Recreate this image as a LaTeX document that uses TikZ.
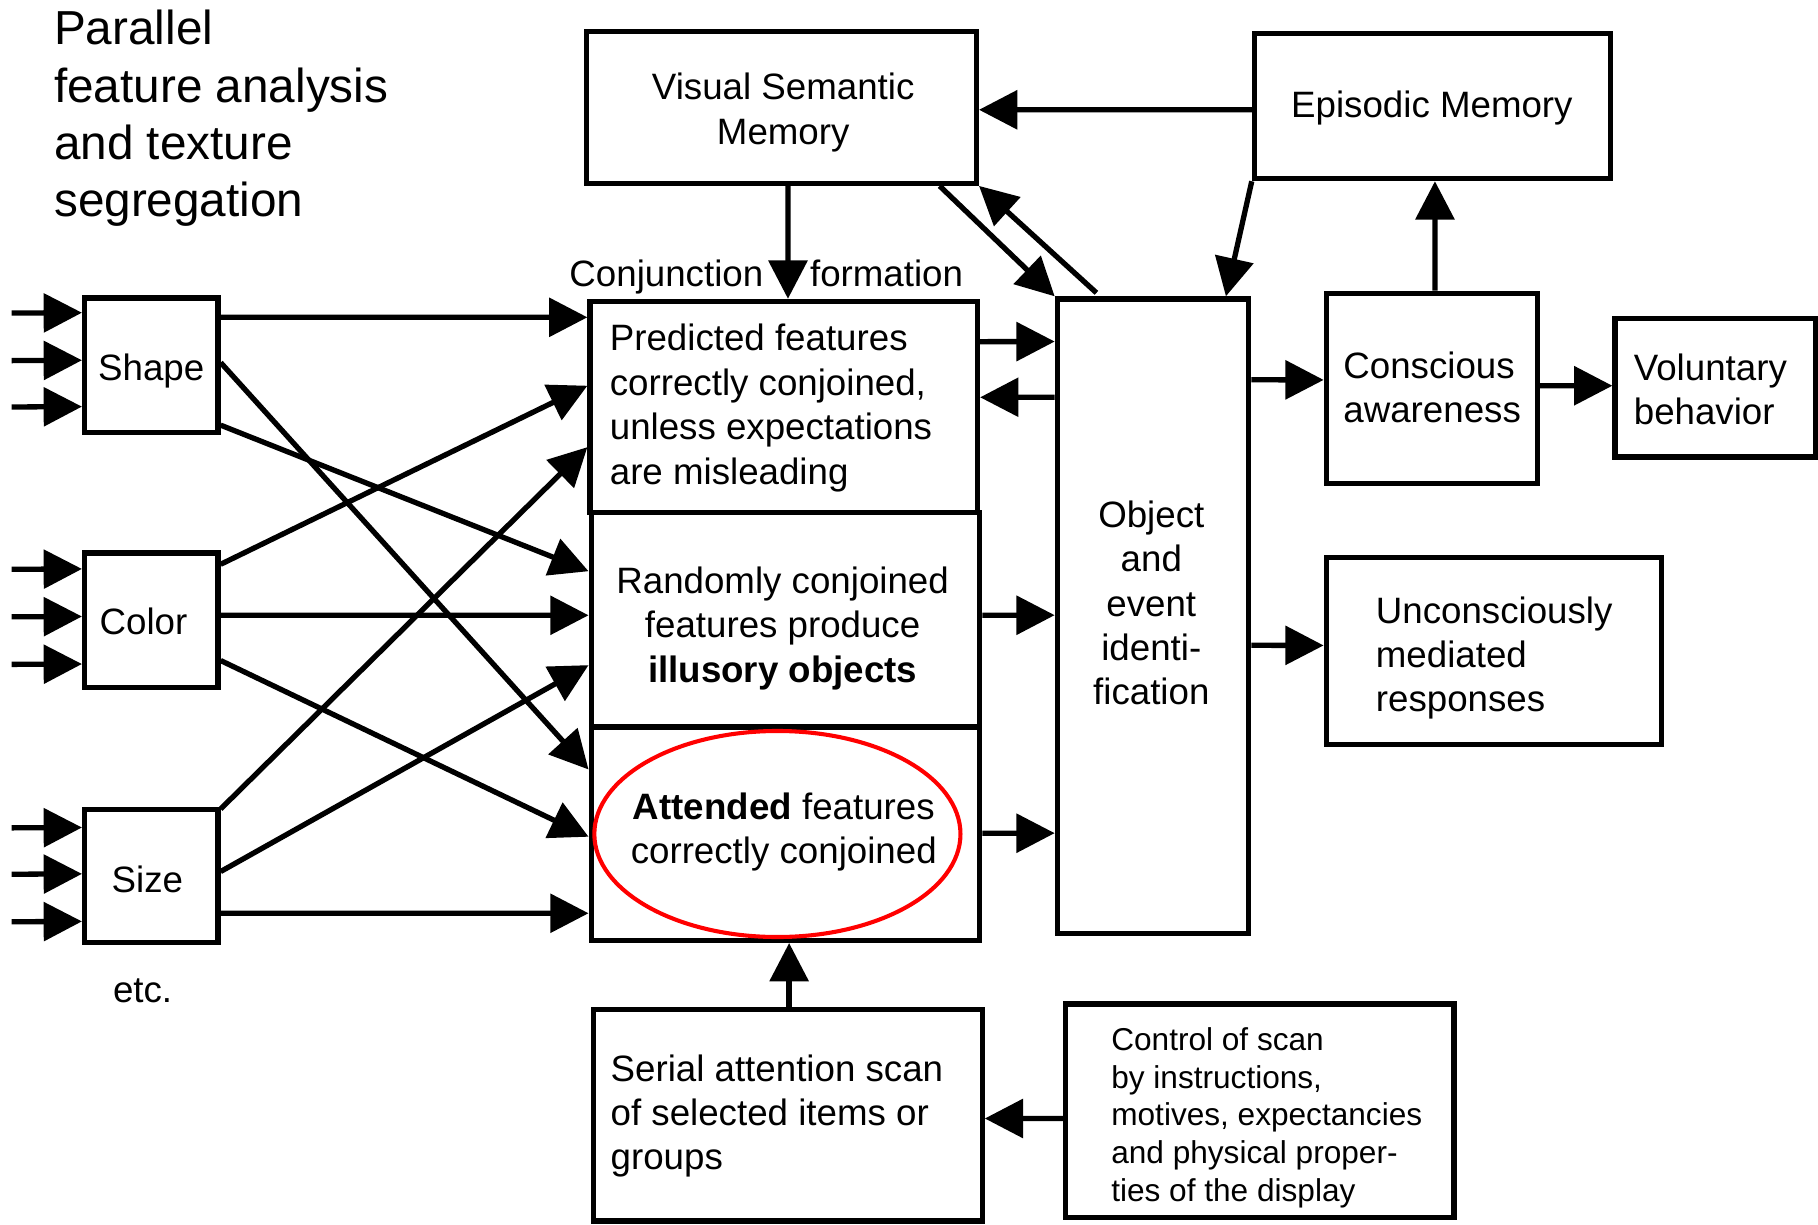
\documentclass[tikz,border=0pt]{standalone}
\usepackage{fontspec}
\setmainfont{Liberation Sans}
\usetikzlibrary{arrows.meta,calc,shapes.geometric}
\begin{document}
\begin{tikzpicture}[x=0.01cm,y=-0.01cm,
  box/.style={draw, line width=1.3pt, rectangle, inner sep=0pt},
  arr/.style={line width=1.3pt, -{Triangle[length=0.33cm,width=0.33cm]}},
  lbl/.style={inner sep=0pt, font=\fontsize{9}{10.9}\selectfont},
  small/.style={inner sep=0pt, font=\fontsize{7.75}{9.27}\selectfont},
  heading/.style={inner sep=0pt, font=\fontsize{11.7}{14.03}\selectfont}]
\useasboundingbox (0,0) rectangle (1568,1056);

% ---------- boxes ----------
\node[box, minimum width=1.15cm, minimum height=1.16cm] (shape) at (130.5,315) {};
\node[box, minimum width=1.15cm, minimum height=1.16cm] (color) at (130.5,535) {};
\node[box, minimum width=1.15cm, minimum height=1.15cm] (size) at (130.5,755.5) {};
\node[box, minimum width=3.34cm, minimum height=1.82cm] (pred) at (676,351) {};
\node[box, minimum width=3.35cm, minimum height=1.85cm] (rand) at (677.5,534.5) {};
\node[box, minimum width=3.35cm, minimum height=1.84cm] (att) at (677.5,719) {};
\node[box, minimum width=3.36cm, minimum height=1.31cm] (vsm) at (674,92.5) {};
\node[box, minimum width=3.07cm, minimum height=1.25cm] (epi) at (1235.5,91.5) {};
\node[box, minimum width=1.65cm, minimum height=5.47cm] (obj) at (994.5,531.5) {};
\node[box, minimum width=1.82cm, minimum height=1.64cm] (cons) at (1235,335) {};
\node[box, minimum width=1.73cm, minimum height=1.19cm] (vol) at (1479.5,334.5) {};
\node[box, minimum width=2.89cm, minimum height=1.61cm] (unc) at (1288.5,561.5) {};
\node[box, minimum width=3.35cm, minimum height=1.82cm] (serial) at (679.5,962) {};
\node[box, minimum width=3.35cm, minimum height=1.84cm] (ctrl) at (1086.5,958) {};

% highlight around the attended-features entry
\node[draw=red, line width=1pt, ellipse, inner sep=0pt,
      minimum width=3.156cm, minimum height=1.776cm] (ring) at (670.5,719.3) {};

% ---------- texts ----------
\node[heading, anchor=west, align=left] (title) at (46,102)
  {Parallel\\feature analysis\\and texture\\segregation};
\node[lbl, anchor=base] (shape-t) at (130.4,328) {Shape};
\node[lbl, anchor=base] (color-t) at (123.8,547) {Color};
\node[lbl, anchor=base] (size-t) at (127.1,769.5) {Size};
\node[lbl, anchor=base] (etc) at (123,865) {etc.};
\node[lbl, anchor=base east] (conj) at (659,247) {Conjunction};
\node[lbl, anchor=base west] (form) at (698,247) {formation};
\node[lbl, align=center] (vsm-t) at (675.5,97) {Visual Semantic\\Memory};
\node[lbl, anchor=base] (epi-t) at (1235,101.5) {Episodic Memory};
\node[lbl, anchor=west, align=left] (pred-t) at (525.3,352)
  {Predicted features\\correctly conjoined,\\unless expectations\\are misleading};
\node[lbl, align=center] (rand-t) at (675,541.9)
  {Randomly conjoined\\features produce\\\textbf{illusory objects}};
\node[lbl, align=center] (att-t) at (676,717.7)
  {\textbf{Attended} features\\correctly conjoined};
\node[lbl, align=center] (obj-t) at (993,520)
  {Object\\and\\event\\identi-\\fication};
\node[lbl, anchor=west, align=left] (cons-t) at (1158,334.3) {Conscious\\awareness};
\node[lbl, anchor=west, align=left] (vol-t) at (1408.5,336) {Voluntary\\behavior};
\node[lbl, anchor=west, align=left] (unc-t) at (1186,567.5)
  {Unconsciously\\mediated\\responses};
\node[lbl, anchor=west, align=left] (serial-t) at (526,962.5)
  {Serial attention scan\\of selected items or\\groups};
\node[small, anchor=west, align=left] (ctrl-t) at (957.8,964)
  {Control of scan\\by instructions,\\motives, expectancies\\and physical proper-\\ties of the display};

% ---------- input arrows ----------
\foreach \r/\n in {270/1,311/2,351/3} \coordinate (is\n) at (10,\r);
\foreach \r/\n in {491/1,532/2,573/3} \coordinate (ic\n) at (10,\r);
\foreach \r/\n in {714/1,754/2,795/3} \coordinate (iz\n) at (10,\r);
\draw[arr] (is1) -- ($(shape.north west)+(0,15)$);
\draw[arr] (is2) -- ($(shape.north west)+(0,56)$);
\draw[arr] (is3) -- ($(shape.north west)+(0,96)$);
\draw[arr] (ic1) -- ($(color.north west)+(0,16)$);
\draw[arr] (ic2) -- ($(color.north west)+(0,57)$);
\draw[arr] (ic3) -- ($(color.north west)+(0,98)$);
\draw[arr] (iz1) -- ($(size.north west)+(0,18)$);
\draw[arr] (iz2) -- ($(size.north west)+(0,58)$);
\draw[arr] (iz3) -- ($(size.north west)+(0,99)$);

% ---------- feature maps to conjunction stages ----------
\draw[arr] ($(shape.north east)+(0,19)$) -- ($(pred.north west)+(0,16)$);
\draw[arr] ($(shape.north east)+(0,112)$) -- ($(rand.north west)+(0,53)$);
\draw[arr] ($(shape.north east)+(0,58)$) -- ($(att.north west)+(0,39)$);
\draw[arr] ($(color.north east)+(0,12)$) -- ($(pred.north west)+(0,75)$);
\draw[arr] ($(color.north east)+(0,56)$) -- ($(rand.north west)+(0,91)$);
\draw[arr] ($(color.north east)+(0,95)$) -- ($(att.north west)+(0,97)$);
\draw[arr] ($(size.north east)+(0,2)$) -- ($(pred.north west)+(0,128)$);
\draw[arr] ($(size.north east)+(0,56)$) -- ($(rand.north west)+(0,134)$);
\draw[arr] ($(size.north east)+(0,92)$) -- ($(att.north west)+(0,163)$);

% ---------- memory links ----------
\draw[arr] ($(vsm.south west)+(176,0)$) -- ($(pred.north west)+(173,0)$);
\draw[arr] ($(epi.north west)+(0,68)$) -- ($(vsm.north east)+(0,70)$);
\draw[arr] (epi.south west) -- ($(obj.north east)+(-22,0)$);
\draw[arr] ($(vsm.south east)+(-34,0)$) -- (obj.north west);
\draw[arr] ($(obj.north west)+(36,-3)$) -- (vsm.south east);

% ---------- identification stage ----------
\draw[arr] ($(pred.north east)+(0,37)$) -- ($(obj.north west)+(0,39)$);
\draw[arr] ($(obj.north west)+(0,87)$) -- ($(pred.north east)+(0,85)$);
\draw[arr] ($(rand.north east)+(0,91)$) -- ($(obj.north west)+(0,275)$);
\draw[arr] ($(att.north east)+(0,94)$) -- ($(obj.north west)+(0,463)$);
\draw[arr] ($(obj.north east)+(0,72)$) -- ($(cons.north west)+(0,77)$);
\draw[arr] ($(cons.north east)+(0,82)$) -- ($(vol.north west)+(0,60)$);
\draw[arr] ($(cons.north west)+(96,0)$) -- ($(epi.south west)+(158,0)$);
\draw[arr] ($(obj.north east)+(0,301)$) -- ($(unc.north west)+(0,78)$);

% ---------- attention scan ----------
\draw[arr] ($(serial.north west)+(171,0)$) -- ($(att.south west)+(173,0)$);
\draw[arr] ($(ctrl.north west)+(0,101)$) -- ($(serial.north east)+(0,96)$);
\end{tikzpicture}
\end{document}
